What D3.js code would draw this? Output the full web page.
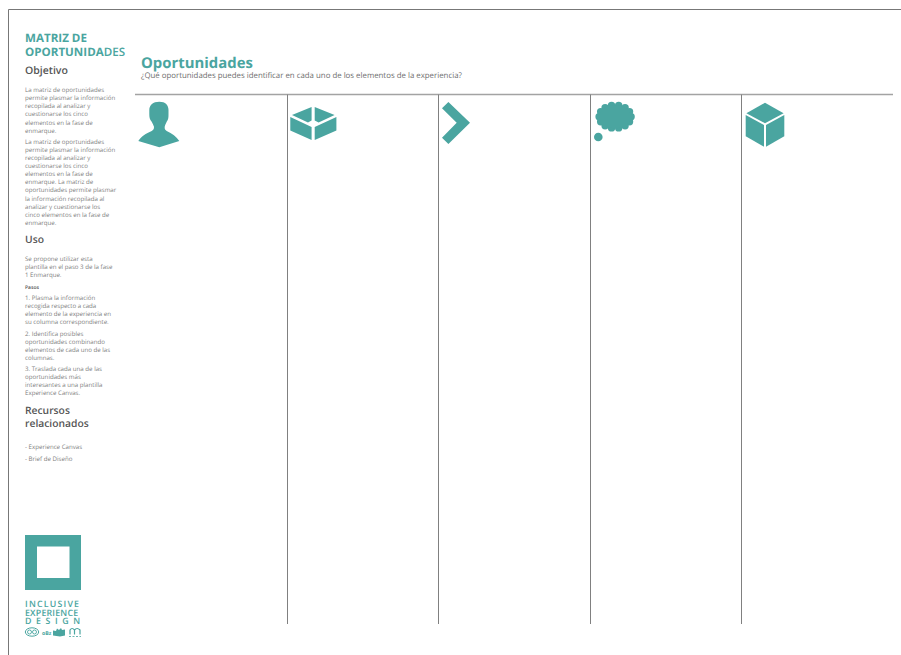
<!DOCTYPE html>
<head>
<meta charset="utf-8">
<style>
    html, body { margin: 0; padding: 0; background: #fff; }
    svg { display: block; }
    text { font-family: "Open Sans", sans-serif; text-rendering: geometricPrecision; }
</style>
</head>
<body>
    <script src="https://d3js.org/d3.v7.min.js"></script>
    <script>

    ///////////////////////////
    ////////// DATA ///////////
    ///////////////////////////

    const columns = ['persona', 'objeto', 'proceso', 'idea', 'producto'];

    const objetivoA = ['La matriz de oportunidades', 'permite plasmar la información', 'recopilada al analizar y',
        'cuestionarse los cinco', 'elementos en la fase de', 'enmarque.'];
    const objetivoB = ['La matriz de oportunidades', 'permite plasmar la información', 'recopilada al analizar y',
        'cuestionarse los cinco', 'elementos en la fase de', 'enmarque. La matriz de',
        'oportunidades permite plasmar', 'la información recopilada al', 'analizar y cuestionarse los',
        'cinco elementos en la fase de', 'enmarque.'];
    const usoIntro = ['Se propone utilizar esta', 'plantilla en el paso 3 de la fase', '1 Enmarque.'];
    const paso1 = ['1. Plasma la información', 'recogida respecto a cada', 'elemento de la experiencia en', 'su columna correspondiente.'];
    const paso2 = ['2. Identifica posibles', 'oportunidades combinando', 'elementos de cada uno de las', 'columnas.'];
    const paso3 = ['3. Traslada cada una de las', 'oportunidades más', 'interesantes a una plantilla', 'Experience Canvas.'];
    const recursos = ['- Experience Canvas', '- Brief de Diseño'];
    const logoLines = ['INCLUSIVE', 'EXPERIENCE', 'DESIGN'];

    ///////////////////////////
    ////////// SETUP //////////
    ///////////////////////////

    const width = 901, height = 655;
    const teal = '#4aa5a0', headGrey = '#555', bodyGrey = '#808080';

    const svg = d3.select('body').append('svg')
        .attr('width', width)
        .attr('height', height);

    const x = d3.scaleBand().domain(columns).range([135, 893]);

    ////////////////////////////
    ////////// FRAME ///////////
    ////////////////////////////

    svg.append('path')
        .attr('d', 'M8.5,' + height + 'V9.5H' + width)
        .attr('fill', 'none')
        .attr('stroke', '#777')
        .attr('stroke-width', 1);

    svg.append('line')
        .attr('x1', x.range()[0]).attr('x2', x.range()[1])
        .attr('y1', 94.5).attr('y2', 94.5)
        .attr('stroke', '#a3a3a3').attr('stroke-width', 1.3);

    svg.selectAll('.col').data(columns.slice(1)).enter().append('line')
        .attr('class', 'col')
        .attr('x1', d => Math.round(x(d)) + 0.5)
        .attr('x2', d => Math.round(x(d)) + 0.5)
        .attr('y1', 94.5).attr('y2', 624)
        .attr('stroke', '#808080').attr('stroke-width', 1);

    ////////////////////////////
    ////////// TITLES //////////
    ////////////////////////////

    function label(str, px, py, size, color, weight) {
        return svg.append('text')
            .attr('x', px).attr('y', py)
            .attr('font-size', size)
            .attr('font-weight', weight || 400)
            .attr('fill', color)
            .text(str);
    }

    label('Oportunidades', 141, 67.5, 14.9, teal, 700);
    label('¿Qué oportunidades puedes identificar en cada uno de los elementos de la experiencia?', 141, 78, 7.85, '#6f6f6f');

    label('MATRIZ DE', 25, 42, 11.6, teal, 700);
    const op = label('OPORTUNIDA', 25, 56, 11.6, teal, 700);
    op.append('tspan').attr('font-weight', 600).text('DES');

    label('Objetivo', 25, 74, 10.5, headGrey, 600);
    label('Uso', 25, 243, 10.3, headGrey, 600);
    label('Recursos', 25, 414, 10.3, headGrey, 600);
    label('relacionados', 25, 427, 10.3, headGrey, 600);

    ////////////////////////////
    ////////// BODY ////////////
    ////////////////////////////

    const lineStep = 8.15, bodySize = 6.15;

    function block(lines, y0, size) {
        lines.forEach((l, i) => label(l, 25, y0 + i * lineStep, size || bodySize, bodyGrey));
    }

    block(objetivoA, 92);
    block(objetivoB, 143.5);
    block(usoIntro, 260.5);
    label('Pasos', 25, 288.8, 5, headGrey, 600);
    block(paso1, 299.5);
    block(paso2, 335.5);
    block(paso3, 371);
    block(recursos.slice(0, 1), 448.8);
    block(recursos.slice(1), 460.8);

    ////////////////////////////
    ////////// ICONS ///////////
    ////////////////////////////

    const icons = svg.selectAll('.icon').data(columns).enter().append('g')
        .attr('class', 'icon')
        .attr('transform', d => 'translate(' + x(d) + ',94)')
        .attr('fill', teal);

    // persona
    d3.select(icons.nodes()[0]).append('path')
        .attr('d', 'M24.3,7.7 C18,7.7 14.3,11 14.3,16 L14.3,20 C14.3,23 14.6,25.5 16.7,27.7 C17.5,29.5 18.5,31 19,32.7 C19.2,35 18,36 16.7,37 C11,39.5 6,42.5 3.3,47 L24.3,53.3 L44.3,47 C41.5,42.5 37,39.5 31.7,37 C30.5,36 29.3,35 29.7,32.7 C30,31 31,29.5 31.7,27.7 C33.5,25.5 33.5,23 33.5,20 L33.5,16 C33.5,11 30.5,7.7 24.3,7.7 Z');

    // caja abierta
    const caja = d3.select(icons.nodes()[1]);
    caja.append('path').attr('d', 'M5.4,21 L25,13 L25,26.5 L21.4,28.5 Z M28.1,13 L48,21 L32,28.5 L28.1,26.5 Z');
    caja.append('path').attr('d', 'M3.7,23 L25,33 L25,46 L3.7,36.5 Z M49.8,23 L49.8,36.5 L28.1,46 L28.1,33 Z');

    // flecha
    d3.select(icons.nodes()[2]).append('path')
        .attr('d', 'M10.2,8 L31.8,28.7 L10.2,50 L3.8,43.7 L18.5,28.7 L3.8,14.3 Z');

    // nube
    const idea = d3.select(icons.nodes()[3]);
    d3.range(14).forEach(i => {
        const a = i / 14 * 2 * Math.PI;
        idea.append('circle')
            .attr('cx', 25.3 + 16 * Math.cos(a))
            .attr('cy', 22.7 + 11.5 * Math.sin(a))
            .attr('r', 3.7);
    });
    idea.append('ellipse').attr('cx', 25.3).attr('cy', 22.7).attr('rx', 16).attr('ry', 11.5);
    idea.append('circle').attr('cx', 8.5).attr('cy', 43).attr('r', 4.3);

    // cubo
    const cubo = d3.select(icons.nodes()[4]);
    cubo.append('path').attr('d', 'M23.6,8.7 L42.2,19.2 L23.6,29.2 L5,19.2 Z');
    cubo.append('path').attr('d', 'M4.3,21 L22.6,31 L22.6,52.7 L4.3,42.2 Z');
    cubo.append('path').attr('d', 'M42.9,21 L42.9,42.2 L24.6,52.7 L24.6,31 Z');

    ////////////////////////////
    ////////// LOGO ////////////
    ////////////////////////////

    svg.append('path')
        .attr('fill', teal)
        .attr('fill-rule', 'evenodd')
        .attr('d', 'M25,535H81V590H25Z M37,546.5V578H69.5V546.5Z');

    const logoY = [607.2, 615.6, 624.2];
    const logoSpacing = [1.2, 0.2, 4.6];
    logoLines.forEach((l, i) => {
        label(l, 25, logoY[i], 8.8, teal, 600).attr('letter-spacing', logoSpacing[i]);
    });

    // sellos
    const sellos = svg.append('g').attr('fill', 'none').attr('stroke', teal);
    sellos.append('ellipse').attr('cx', 32).attr('cy', 632).attr('rx', 6.7).attr('ry', 4.2).attr('stroke-width', 1);
    sellos.selectAll('circle').data([29.5, 34.5]).enter().append('circle')
        .attr('cx', d => d).attr('cy', 632).attr('r', 2).attr('stroke-width', 0.9);
    label('oBz', 42, 634.8, 5.2, teal, 700);
    svg.append('path').attr('fill', teal)
        .attr('d', 'M53,635.5 L53,630.5 L56,631 L57,628.5 L59,630 L61,628 L62,630 L65,629.5 L65,635.5 L60,636.5 Z');
    sellos.append('path').attr('stroke-width', 1.2)
        .attr('d', 'M70,634.5 V630 Q72,627 74.5,630 V634.5 M74.5,630 Q77,627 80,630 V634.5');
    sellos.append('path').attr('stroke-width', 0.8).attr('stroke-dasharray', '2,1.5')
        .attr('d', 'M69,636.5 H81');

    </script>
</body>
